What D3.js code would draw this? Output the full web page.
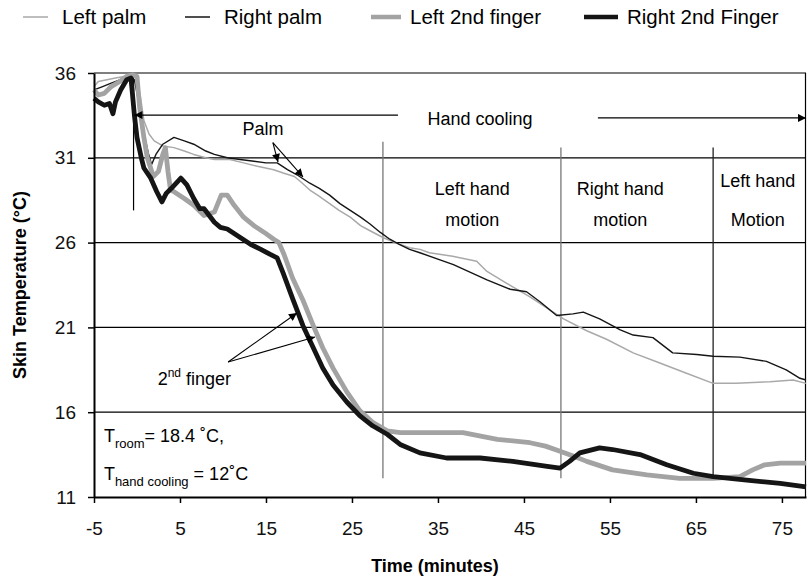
<!DOCTYPE html>
<html>
<head>
<meta charset="utf-8">
<script src="https://cdn.jsdelivr.net/npm/d3@7"></script>
<style>
	body { margin: 0; background: #fff; }
	svg { display: block; font-family: "Liberation Sans", Arial, sans-serif; }
</style>
</head>
<body>
<svg id="chart" width="807" height="583"></svg>
<script>
// time (min), skin temperature (C)
const leftPalm = [
	[-5,35.2],[-4.5,35.5],[-3.5,35.6],[-2.5,35.7],[-1.5,35.8],[-0.5,35.8],[0,35.7],[0.4,34.6],[0.8,33.2],
	[1.4,32.4],[2,32.0],[3,31.7],[4.3,31.6],[5.5,31.4],[6.6,31.2],[8,31.0],[9,30.9],[10.8,30.9],[12.4,30.7],
	[14,30.5],[15.9,30.3],[17,30.1],[18.3,29.9],[19,29.6],[20.1,29.1],[21,28.8],[22.4,28.3],[23.5,27.9],
	[24.8,27.5],[26,27.0],[27.1,26.7],[28.6,26.3],[30,26.0],[31.7,25.7],[32.9,25.6],[34,25.4],[36.7,25.2],
	[39.5,24.9],[40.7,24.3],[43,23.6],[45.7,22.8],[48.4,21.9],[49.6,21.5],[52.3,20.8],[54.6,20.3],[57.7,19.5],
	[60.8,18.9],[63.9,18.3],[67,17.7],[69.7,17.7],[73.6,17.8],[76.3,17.9],[77.8,17.7]
];
const rightPalm = [
	[-5,35.0],[-4,35.2],[-3,35.4],[-2,35.6],[-1,35.7],[-0.3,35.6],[0.3,34.0],[0.8,32.5],[1.3,31.3],[1.7,30.6],
	[2.2,31.2],[3,31.8],[4.3,32.2],[5.5,32.0],[6.6,31.8],[8,31.4],[9,31.2],[10.5,31.0],[12,30.9],[13.6,30.8],
	[15,30.7],[16.3,30.7],[17.5,30.3],[18.6,30.0],[20.1,29.5],[21.2,29.2],[22.4,28.8],[23.6,28.3],[24.8,27.9],
	[26,27.5],[27.1,27.1],[28.3,26.6],[29.4,26.2],[30.5,25.9],[31.7,25.6],[32.9,25.4],[36.8,24.7],[40.7,23.8],
	[43.4,23.25],[45.3,23.1],[46.9,22.5],[48.8,21.7],[50.7,21.8],[51.9,21.9],[53.8,21.5],[56.2,20.85],
	[57.7,20.55],[60,20.4],[62.3,19.5],[65.1,19.4],[67,19.3],[70.1,19.25],[73.2,19.0],[75.5,18.5],[77.1,18.0],[77.8,17.9]
];
const leftFinger = [
	[-5,35.0],[-4.5,34.7],[-3.8,34.8],[-3,35.2],[-2,35.5],[-1.2,35.8],[-0.5,35.9],[0,35.8],[0.3,34.0],[0.8,32.2],
	[1.2,31.0],[1.9,29.9],[2.5,30.2],[3.0,31.2],[3.3,31.6],[3.6,30.2],[3.9,29.1],[4.3,29.0],[5.5,28.6],[6.6,28.2],
	[7.8,27.6],[9,27.8],[9.8,28.8],[10.5,28.8],[11.3,28.2],[12.4,27.5],[13.6,27.0],[14.8,26.6],[15.9,26.2],
	[16.5,26.0],[17.1,25.3],[18.1,23.9],[19.3,22.6],[20.5,21.1],[21.6,19.8],[22.8,18.6],[24.4,17.2],[25.9,16.1],
	[27.4,15.4],[29.1,14.9],[30.6,14.8],[34.1,14.8],[37.9,14.8],[41.9,14.4],[45.7,14.2],[47.5,14.0],[49.2,13.7],
	[50.8,13.4],[52.3,13.1],[55.3,12.6],[59.3,12.3],[63.1,12.1],[67,12.1],[70.1,12.2],[71.6,12.6],[73,12.9],
	[74.8,13.0],[77.8,13.0]
];
const rightFinger = [
	[-5,34.5],[-4.5,34.3],[-3.8,34.1],[-3.2,34.2],[-2.8,33.6],[-2.5,34.3],[-1.9,35.0],[-1.2,35.6],[-0.7,35.7],
	[-0.3,33.5],[0,32.2],[0.5,31.0],[0.8,30.4],[1.6,29.8],[2.3,29.0],[2.9,28.4],[3.4,28.9],[4,29.2],[5.1,29.8],
	[5.8,29.4],[6.6,28.6],[7.3,28.0],[7.8,28.0],[9,27.2],[9.7,26.9],[10.5,26.8],[12,26.3],[13.2,25.9],[14.4,25.6],
	[15.5,25.3],[16.3,25.1],[17,24.2],[18.1,22.7],[19.3,21.1],[20.5,19.8],[21.6,18.6],[22.8,17.6],[24.4,16.6],
	[25.9,15.8],[27.4,15.2],[29.1,14.7],[30.6,14.1],[32.9,13.6],[36,13.3],[39.9,13.3],[43.7,13.1],[47.7,12.8],
	[49.2,12.7],[50.3,13.1],[51.5,13.6],[53.8,13.9],[55.3,13.8],[58.5,13.5],[61.6,12.9],[64.7,12.4],[67,12.2],
	[70.9,12.0],[74.8,11.8],[77.8,11.6]
];

const xTicks = [-5, 5, 15, 25, 35, 45, 55, 65, 75];
const yTicks = [11, 16, 21, 26, 31, 36];
const legendLabels = ["Left palm", "Right palm", "Left 2nd finger", "Right 2nd Finger"];
// motion phase boundaries (minutes) and their labels
const phaseLines = [28.6, 49.3, 67.0];
const phaseLabels = [["Left hand", "motion"], ["Right hand", "motion"], ["Left hand", "Motion"]];

const svg = d3.select("#chart");
const margin = {top: 73, right: 1, bottom: 86, left: 94};
const width = 807, height = 583;

const x = d3.scaleLinear().domain([-5, 77.8]).range([margin.left, width - margin.right]);
const y = d3.scaleLinear().domain([11, 36]).range([height - margin.bottom, margin.top]);

const series = [
	{data: leftPalm, color: "#a9a9a9", w: 1.5},
	{data: rightPalm, color: "#151515", w: 1.4},
	{data: leftFinger, color: "#a3a3a3", w: 4.8},
	{data: rightFinger, color: "#151515", w: 4.8}
];

const defs = svg.append("defs");
defs.append("marker")
	.attr("id", "arr")
	.attr("viewBox", "0 0 10 10")
	.attr("refX", 10).attr("refY", 5)
	.attr("markerWidth", 11).attr("markerHeight", 8)
	.attr("markerUnits", "userSpaceOnUse")
	.attr("orient", "auto")
	.append("path").attr("d", "M0,0L10,5L0,10Z").attr("fill", "#000");

// grid
svg.append("g").selectAll("line")
	.data(yTicks.slice(1))
	.join("line")
	.attr("x1", x(-5)).attr("x2", x(77.8))
	.attr("y1", d => y(d)).attr("y2", d => y(d))
	.attr("stroke", "#000").attr("stroke-width", 1.2);

svg.append("line")
	.attr("x1", x(77.8) - 0.5).attr("x2", x(77.8) - 0.5)
	.attr("y1", y(36)).attr("y2", y(11))
	.attr("stroke", "#000").attr("stroke-width", 1.2);

// phase separators
svg.append("g").selectAll("line")
	.data(phaseLines)
	.join("line")
	.attr("x1", d => x(d)).attr("x2", d => x(d))
	.attr("y1", (d, i) => y(i == 0 ? 31.95 : 31.6)).attr("y2", y(12.1))
	.attr("stroke", (d, i) => i == 2 ? "#222" : "#777")
	.attr("stroke-width", 1.3);

// cooling start line
svg.append("line")
	.attr("x1", x(-0.4)).attr("x2", x(-0.4))
	.attr("y1", y(35.9)).attr("y2", y(27.9))
	.attr("stroke", "#000").attr("stroke-width", 1.2);

// data lines
const lineDrawer = d3.line()
	.x(d => x(d[0]))
	.y(d => y(d[1]));

svg.append("g").selectAll("path")
	.data(series)
	.join("path")
	.attr("fill", "none")
	.attr("stroke", d => d.color)
	.attr("stroke-width", d => d.w)
	.attr("stroke-linejoin", "round")
	.attr("d", d => lineDrawer(d.data));

// axes
const xAxis = svg.append("g")
	.attr("transform", `translate(0,${y(11)})`)
	.call(d3.axisBottom(x).tickValues(xTicks).tickFormat(d => String(d))
		.tickSize(6).tickSizeOuter(0).tickPadding(12));
const yAxis = svg.append("g")
	.attr("transform", `translate(${x(-5)},0)`)
	.call(d3.axisLeft(y).tickValues(yTicks).tickFormat(d => String(d))
		.tickSize(6).tickSizeOuter(0).tickPadding(12));

[xAxis, yAxis].forEach(a => {
	a.select(".domain").attr("stroke", "#000").attr("stroke-width", 2);
	a.selectAll(".tick line").attr("stroke", "#000").attr("stroke-width", 1.5);
	a.selectAll(".tick text")
		.attr("font-family", "Liberation Sans, Arial, sans-serif")
		.attr("font-size", 19).attr("fill", "#111");
});
xAxis.selectAll(".tick text").attr("dy", "1.05em");

svg.append("text")
	.attr("x", 435).attr("y", 572)
	.attr("text-anchor", "middle")
	.attr("font-size", 18).attr("font-weight", "bold")
	.text("Time (minutes)");

svg.append("text")
	.attr("transform", `translate(26,${(y(36) + y(11)) / 2}) rotate(-90)`)
	.attr("text-anchor", "middle")
	.attr("font-size", 18).attr("font-weight", "bold")
	.text("Skin Temperature (°C)");

// hand cooling arrow
svg.append("line")
	.attr("x1", x(30.35)).attr("x2", x(-0.3))
	.attr("y1", y(33.52)).attr("y2", y(33.52))
	.attr("stroke", "#000").attr("stroke-width", 1.2)
	.attr("marker-end", "url(#arr)");
svg.append("line")
	.attr("x1", x(53.6)).attr("x2", x(77.8))
	.attr("y1", y(33.35)).attr("y2", y(33.35))
	.attr("stroke", "#000").attr("stroke-width", 1.2)
	.attr("marker-end", "url(#arr)");
svg.append("text")
	.attr("x", x(39.9)).attr("y", y(32.95))
	.attr("text-anchor", "middle").attr("font-size", 18)
	.text("Hand cooling");

// phase labels
const phaseCenters = [39.0, 56.2, 72.2];
phaseLabels.forEach((lab, i) => {
	svg.append("text")
		.attr("x", x(phaseCenters[i])).attr("y", y(i == 2 ? 29.3 : 28.8))
		.attr("text-anchor", "middle").attr("font-size", 18)
		.text(lab[0]);
	svg.append("text")
		.attr("x", x(phaseCenters[i])).attr("y", y(27.0))
		.attr("text-anchor", "middle").attr("font-size", 18)
		.text(lab[1]);
});

// Palm annotation
svg.append("text")
	.attr("x", x(14.65)).attr("y", y(32.35))
	.attr("text-anchor", "middle").attr("font-size", 18)
	.text("Palm");
[[16.4, 30.75], [19.3, 29.87]].forEach(p => {
	svg.append("line")
		.attr("x1", x(15.8)).attr("y1", y(31.9))
		.attr("x2", x(p[0])).attr("y2", y(p[1]))
		.attr("stroke", "#000").attr("stroke-width", 1.1)
		.attr("marker-end", "url(#arr)");
});

// 2nd finger annotation
const fingerText = svg.append("text")
	.attr("x", x(2.4)).attr("y", y(17.6))
	.attr("font-size", 18);
fingerText.append("tspan").text("2");
fingerText.append("tspan").attr("font-size", 12).attr("dy", -8).text("nd");
fingerText.append("tspan").attr("dy", 8).text(" finger");
[[18.6, 21.85], [20.7, 20.43]].forEach(p => {
	svg.append("line")
		.attr("x1", x(10.6)).attr("y1", y(18.96))
		.attr("x2", x(p[0])).attr("y2", y(p[1]))
		.attr("stroke", "#000").attr("stroke-width", 1.1)
		.attr("marker-end", "url(#arr)");
});

// conditions
const t1 = svg.append("text").attr("x", x(-3.85)).attr("y", y(14.25)).attr("font-size", 18);
t1.append("tspan").text("T");
t1.append("tspan").attr("font-size", 13).attr("dy", 6).text("room");
t1.append("tspan").attr("dy", -6).text("= 18.4 ˚C,");
const t2 = svg.append("text").attr("x", x(-3.85)).attr("y", y(12.0)).attr("font-size", 18);
t2.append("tspan").text("T");
t2.append("tspan").attr("font-size", 13).attr("dy", 6).text("hand cooling");
t2.append("tspan").attr("dy", -6).text(" = 12˚C");

// legend
const legendX = [23, 185, 371, 584];
const legend = svg.append("g").selectAll("g")
	.data(series)
	.join("g")
	.attr("transform", (d, i) => `translate(${legendX[i]},17)`);
legend.append("line")
	.attr("x1", 0).attr("x2", (d, i) => i < 2 ? 25 : (i == 2 ? 30 : 34))
	.attr("stroke", d => d.color)
	.attr("stroke-width", (d, i) => i < 2 ? 1.5 : 4.5);
legend.append("text")
	.attr("x", (d, i) => i == 3 ? 43 : 39)
	.attr("y", 7)
	.attr("font-size", 20.5)
	.text((d, i) => legendLabels[i]);
</script>
</body>
</html>
